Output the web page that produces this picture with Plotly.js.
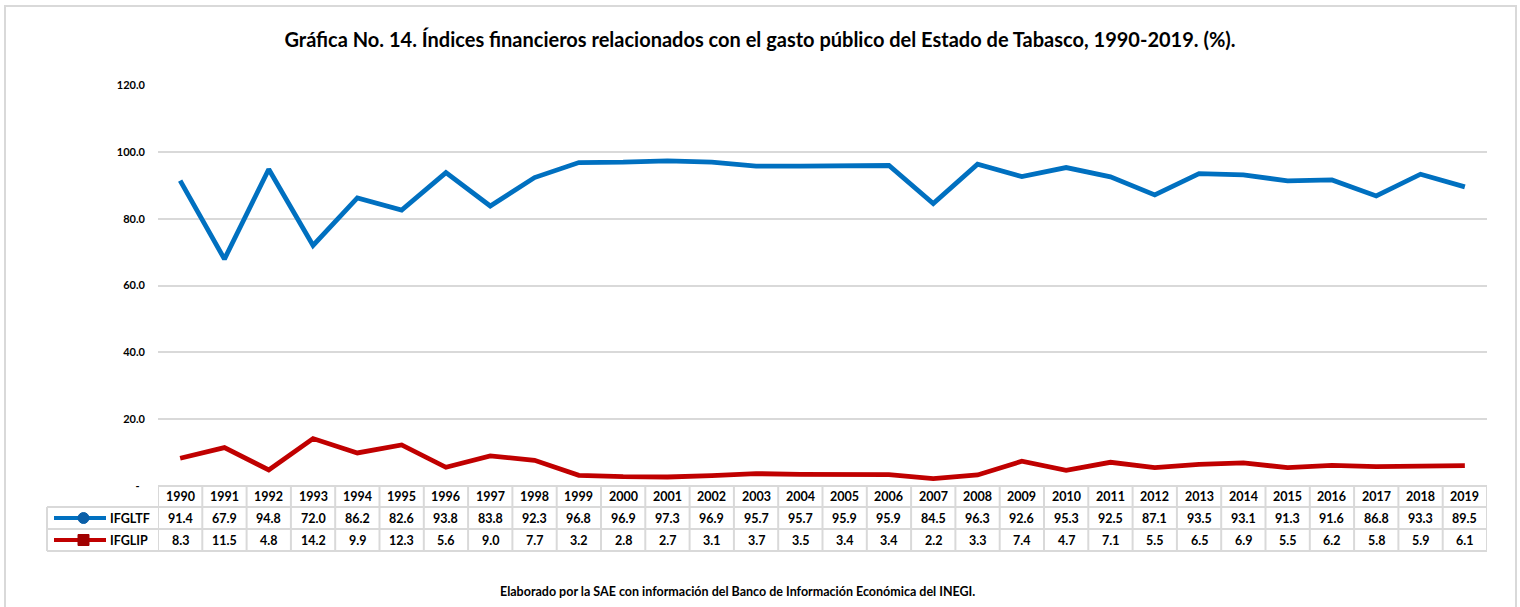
<!DOCTYPE html>
<html>
<head>
<meta charset="utf-8">
<script src="https://cdn.plot.ly/plotly-3.0.1.min.js"></script>
<style>html,body{margin:0;padding:0;background:#fff;}#chart{width:1520px;height:607px;}</style>
</head>
<body>
<div id="chart"></div>
<script>
// ---- Data ----
const years = ['1990','1991','1992','1993','1994','1995','1996','1997','1998','1999','2000','2001','2002','2003','2004','2005','2006','2007','2008','2009','2010','2011','2012','2013','2014','2015','2016','2017','2018','2019'];
const ifgltf = [91.4,67.9,94.8,72.0,86.2,82.6,93.8,83.8,92.3,96.8,96.9,97.3,96.9,95.7,95.7,95.9,95.9,84.5,96.3,92.6,95.3,92.5,87.1,93.5,93.1,91.3,91.6,86.8,93.3,89.5];
const ifglip = [8.3,11.5,4.8,14.2,9.9,12.3,5.6,9.0,7.7,3.2,2.8,2.7,3.1,3.7,3.5,3.4,3.4,2.2,3.3,7.4,4.7,7.1,5.5,6.5,6.9,5.5,6.2,5.8,5.9,6.1];
const seriesNames = ['IFGLTF','IFGLIP'];
const yTickVals = [0,20,40,60,80,100,120];
const yTickText = ['-\u00a0\u00a0','20.0','40.0','60.0','80.0','100.0','120.0'];
const titleText = 'Gráfica No. 14. Índices financieros relacionados con el gasto público del Estado de Tabasco, 1990-2019. (%).';
const sourceText = 'Elaborado por la SAE con información del Banco de Información Económica del INEGI.';

// ---- Layout geometry (pixels) ----
const W = 1520, H = 607;
const plotL = 158, plotR = 1487, plotT = 85, plotB = 486;
const pw = plotR - plotL, ph = plotB - plotT;
const px = x => (x - plotL) / pw;     // pixel x -> paper x
const py = y => (plotB - y) / ph;     // pixel y -> paper y

const FONT = 'Lato, "Open Sans", sans-serif';
const BLUE = '#0070C0', RED = '#C00000', GRID = '#d9d9d9';

const rowEdges = [486, 507, 529, 551];  // table row borders
const rowCenters = [496.5, 518, 540];
const legendLeft = 47;

const traces = [
  {x: years, y: ifgltf, name: seriesNames[0], type: 'scatter', mode: 'lines',
   line: {color: BLUE, width: 4.8}, hoverinfo: 'x+y'},
  {x: years, y: ifglip, name: seriesNames[1], type: 'scatter', mode: 'lines',
   line: {color: RED, width: 4.8}, hoverinfo: 'x+y'}
];

const shapes = [];
const annotations = [];
const n = years.length;

// outer frame
shapes.push({type: 'rect', xref: 'paper', yref: 'paper', x0: px(5), x1: px(1516), y0: py(6), y1: py(640),
  line: {color: GRID, width: 2}, fillcolor: 'rgba(0,0,0,0)', layer: 'below'});

// table vertical borders
for (let i = 0; i <= n; i++) {
  shapes.push({type: 'line', xref: 'x', yref: 'paper', x0: i - 0.5, x1: i - 0.5,
    y0: py(rowEdges[0]), y1: py(rowEdges[3]), line: {color: GRID, width: 2}});
}
// legend column left border
shapes.push({type: 'line', xref: 'paper', yref: 'paper', x0: px(legendLeft), x1: px(legendLeft),
  y0: py(rowEdges[1]), y1: py(rowEdges[3]), line: {color: GRID, width: 2}});
// horizontal borders
shapes.push({type: 'line', xref: 'x', yref: 'paper', x0: -0.5, x1: n - 0.5,
  y0: py(rowEdges[0]), y1: py(rowEdges[0]), line: {color: GRID, width: 2}});
for (let r = 1; r < rowEdges.length; r++) {
  shapes.push({type: 'line', xref: 'paper', yref: 'paper', x0: px(legendLeft), x1: 1,
    y0: py(rowEdges[r]), y1: py(rowEdges[r]), line: {color: GRID, width: 2}});
}

// legend swatches
const swColors = [BLUE, RED];
for (let k = 0; k < 2; k++) {
  const yc = py(rowCenters[k + 1]);
  shapes.push({type: 'line', xref: 'paper', yref: 'paper', x0: px(54), x1: px(106), y0: yc, y1: yc,
    line: {color: swColors[k], width: 4}});
  annotations.push({xref: 'paper', yref: 'paper', x: px(108), y: yc, text: '<b>' + seriesNames[k] + '</b>',
    showarrow: false, xanchor: 'left', yanchor: 'middle', font: {family: FONT, size: 12.5, color: '#000'}});
}
// circle marker
shapes.push({type: 'circle', xref: 'paper', yref: 'paper', x0: px(78), x1: px(89),
  y0: py(rowCenters[1] - 5.5), y1: py(rowCenters[1] + 5.5), fillcolor: '#0A5FA8', line: {color: '#0A5FA8', width: 1}});
// square marker
shapes.push({type: 'rect', xref: 'paper', yref: 'paper', x0: px(78), x1: px(89),
  y0: py(rowCenters[2] - 5.5), y1: py(rowCenters[2] + 5.5), fillcolor: '#A00000', line: {color: '#A00000', width: 1}});

// table cells (x given as category index)
for (let i = 0; i < n; i++) {
  const cells = [years[i], ifgltf[i].toFixed(1), ifglip[i].toFixed(1)];
  for (let r = 0; r < 3; r++) {
    annotations.push({xref: 'x', yref: 'paper', x: i, y: py(rowCenters[r]), text: '<b>' + cells[r] + '</b>',
      showarrow: false, xanchor: 'center', yanchor: 'middle', font: {family: FONT, size: 12.5, color: '#000'}});
  }
}

// source note
annotations.push({xref: 'paper', yref: 'paper', x: px(737), y: py(591), text: '<b>' + sourceText + '</b>',
  showarrow: false, xanchor: 'center', yanchor: 'middle', font: {family: FONT, size: 12.5, color: '#000'}});

const layout = {
  width: W, height: H,
  margin: {l: plotL, r: W - plotR, t: plotT, b: H - plotB, pad: 0},
  paper_bgcolor: '#fff', plot_bgcolor: '#fff',
  showlegend: false,
  title: {text: '<b>' + titleText + '</b>', x: 0.5, xanchor: 'center', xref: 'container',
    y: 1 - 40 / H, yanchor: 'middle', yref: 'container', font: {family: FONT, size: 20, color: '#000'}},
  xaxis: {type: 'category', range: [-0.5, n - 0.5], showticklabels: false, showgrid: false,
    zeroline: false, showline: false, ticks: ''},
  yaxis: {range: [0, 120], tickvals: yTickVals, ticktext: yTickText, showgrid: true, gridcolor: GRID,
    gridwidth: 2, zeroline: false, showline: false, ticks: '', ticklabelstandoff: 12,
    tickfont: {family: FONT, size: 11, color: '#000', weight: 'bold'}},
  shapes: shapes,
  annotations: annotations
};

Plotly.newPlot('chart', traces, layout, {displayModeBar: false, staticPlot: true});
</script>
</body>
</html>
